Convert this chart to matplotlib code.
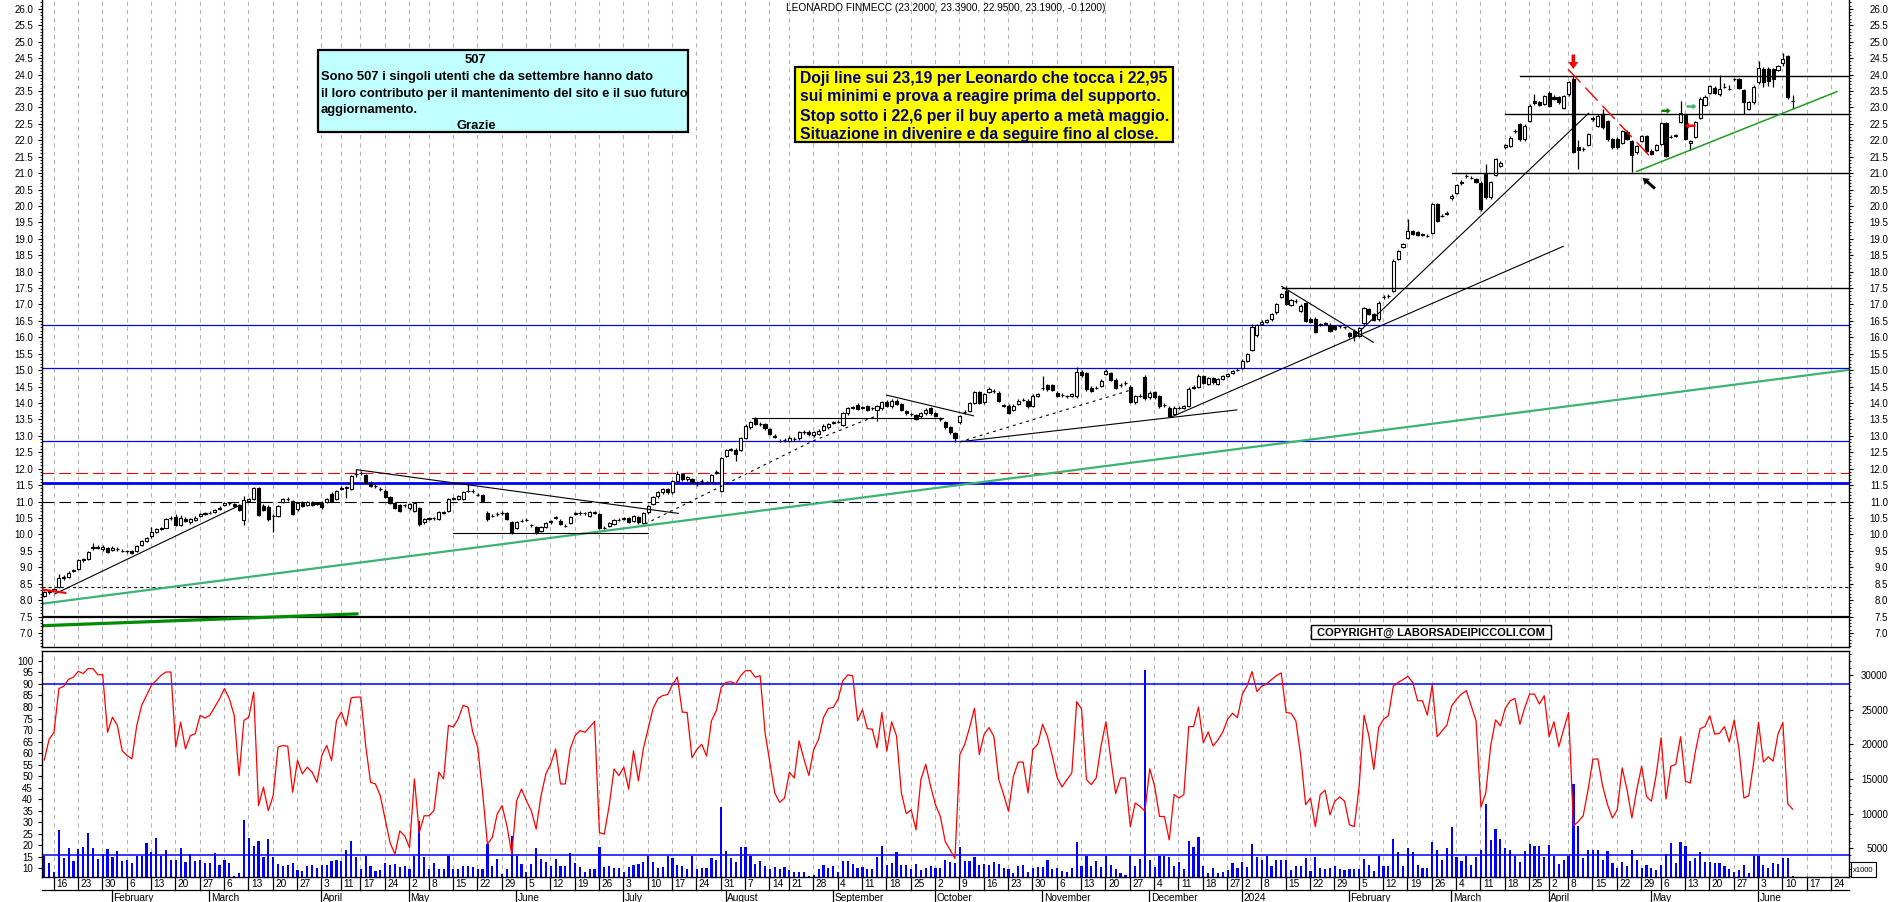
# Leonardo daily candles with stochastic and volume, as in the laborsadeipiccoli chart.

import numpy as np
import pandas as pd
import matplotlib
matplotlib.use('Agg')
import matplotlib.pyplot as plt
from matplotlib import font_manager
from matplotlib.patches import Rectangle, Polygon
from matplotlib.lines import Line2D
from matplotlib.transforms import blended_transform_factory

######## DATA ########

TITLE = 'LEONARDO FINMECC (23.2000, 23.3900, 22.9500, 23.1900, -0.1200)'
FIRST_DAY, LAST_DAY = '2023-01-12', '2024-06-28'
HOLIDAYS = ['2023-04-07', '2023-04-10', '2023-05-01', '2023-08-15', '2023-12-25',
            '2023-12-26', '2024-01-01', '2024-03-29', '2024-04-01', '2024-05-01']
MONTH_LABELS = ['February', 'March', 'April', 'May', 'June', 'July', 'August',
                'September', 'October', 'November', 'December', '2024',
                'February', 'March', 'April', 'May', 'June']

OPEN = [
 8.13, 8.24, 8.29, 8.40, 8.68, 8.69, 8.89, 8.96, 9.22, 9.25,
 9.58, 9.61, 9.55, 9.58, 9.52, 9.56, 9.51, 9.49, 9.50, 9.50,
 9.68, 9.81, 9.94, 10.08, 10.17, 10.21, 10.49, 10.52, 10.30, 10.47,
 10.37, 10.45, 10.55, 10.63, 10.65, 10.67, 10.81, 10.90, 10.95, 10.93,
 10.89, 10.45, 11.03, 11.08, 11.40, 10.85, 10.82, 10.55, 10.57, 11.00,
 11.07, 11.02, 10.77, 10.97, 10.89, 10.97, 10.94, 10.97, 10.99, 11.24,
 11.08, 11.39, 11.42, 11.38, 11.83, 11.88, 11.81, 11.58, 11.47, 11.39,
 11.33, 11.15, 10.97, 10.89, 10.88, 10.79, 10.72, 10.79, 10.37, 10.48,
 10.49, 10.47, 10.66, 10.72, 11.09, 11.08, 11.08, 11.32, 11.32, 11.21,
 11.20, 10.65, 10.56, 10.61, 10.64, 10.65, 10.37, 10.21, 10.41, 10.44,
 10.29, 10.24, 10.11, 10.24, 10.37, 10.51, 10.42, 10.27, 10.35, 10.63,
 10.65, 10.64, 10.57, 10.66, 10.62, 10.20, 10.26, 10.32, 10.44, 10.48,
 10.49, 10.42, 10.52, 10.35, 10.67, 10.92, 11.16, 11.28, 11.38, 11.28,
 11.63, 11.84, 11.68, 11.68, 11.56, 11.62, 11.57, 11.61, 11.88, 11.33,
 12.39, 12.57, 12.58, 12.58, 12.95, 13.26, 13.51, 13.36, 13.36, 13.21,
 12.99, 12.85, 12.87, 12.85, 12.90, 12.92, 13.11, 13.13, 13.02, 13.07,
 13.18, 13.26, 13.40, 13.43, 13.33, 13.69, 13.86, 13.94, 13.86, 13.90,
 13.84, 13.80, 13.84, 14.04, 13.90, 14.07, 13.97, 13.76, 13.66, 13.63,
 13.59, 13.69, 13.84, 13.69, 13.51, 13.41, 13.26, 13.08, 13.41, 13.72,
 13.76, 14.00, 14.34, 14.02, 14.34, 14.37, 14.32, 13.93, 13.92, 13.80,
 13.97, 14.09, 14.07, 13.92, 14.22, 14.46, 14.54, 14.54, 14.32, 14.24,
 14.20, 14.22, 14.20, 14.93, 14.91, 14.47, 14.46, 14.52, 14.88, 14.91,
 14.71, 14.55, 14.60, 14.50, 14.02, 14.21, 14.78, 14.17, 14.34, 14.20,
 13.94, 13.86, 13.66, 13.85, 13.86, 13.92, 14.47, 14.50, 14.81, 14.58,
 14.75, 14.58, 14.73, 14.83, 14.91, 15.00, 15.08, 15.29, 15.62, 16.07,
 16.42, 16.47, 16.55, 16.76, 17.24, 17.42, 16.98, 17.10, 16.81, 17.04,
 16.57, 16.57, 16.39, 16.42, 16.39, 16.35, 16.33, 16.30, 16.13, 16.20,
 16.05, 16.43, 16.86, 16.71, 16.55, 17.23, 17.25, 17.42, 18.38, 18.76,
 19.02, 19.24, 19.21, 19.13, 19.08, 19.19, 20.05, 19.69, 19.75, 20.23,
 20.39, 20.69, 20.91, 20.86, 20.81, 20.71, 20.97, 20.26, 20.94, 21.22,
 21.78, 21.83, 22.27, 22.49, 22.03, 22.59, 23.20, 23.15, 23.10, 23.45,
 23.33, 23.32, 22.99, 23.40, 23.86, 21.78, 21.73, 21.85, 22.64, 22.44,
 22.79, 22.59, 22.03, 22.03, 21.93, 22.25, 21.98, 21.63, 21.98, 22.13,
 21.68, 21.71, 21.88, 22.52, 22.10, 22.14, 22.56, 22.76, 21.91, 22.11,
 22.69, 23.07, 23.45, 23.60, 23.40, 23.62, 23.56, 23.85, 23.86, 23.53,
 22.96, 23.15, 23.76, 24.18, 24.18, 24.16, 24.14, 24.36, 24.55, 23.20]

HIGH = [
 8.27, 8.32, 8.36, 8.79, 8.76, 8.88, 8.96, 9.26, 9.28, 9.50,
 9.74, 9.68, 9.67, 9.62, 9.64, 9.62, 9.57, 9.54, 9.54, 9.68,
 9.82, 9.93, 10.24, 10.20, 10.24, 10.50, 10.56, 10.62, 10.60, 10.52,
 10.50, 10.55, 10.66, 10.69, 10.70, 10.77, 10.85, 11.00, 11.00, 10.97,
 10.93, 11.18, 11.12, 11.44, 11.44, 10.92, 10.88, 10.62, 10.88, 11.12,
 11.14, 11.06, 11.00, 11.02, 11.03, 11.02, 11.00, 11.02, 11.12, 11.30,
 11.36, 11.46, 11.48, 11.80, 11.99, 11.93, 11.85, 11.62, 11.52, 11.44,
 11.37, 11.18, 11.00, 10.93, 10.94, 10.95, 11.00, 10.83, 10.50, 10.53,
 10.54, 10.70, 10.72, 11.12, 11.15, 11.20, 11.33, 11.53, 11.37, 11.26,
 11.24, 10.70, 10.62, 10.67, 10.70, 10.69, 10.41, 10.40, 10.46, 10.49,
 10.33, 10.27, 10.27, 10.37, 10.45, 10.56, 10.46, 10.31, 10.55, 10.69,
 10.70, 10.69, 10.70, 10.72, 10.66, 10.26, 10.38, 10.48, 10.50, 10.54,
 10.53, 10.58, 10.56, 10.68, 10.90, 11.16, 11.31, 11.41, 11.42, 11.66,
 11.92, 11.88, 11.78, 11.72, 11.62, 11.68, 11.62, 11.85, 11.95, 12.36,
 12.60, 12.64, 12.62, 12.96, 13.35, 13.45, 13.56, 13.42, 13.40, 13.25,
 13.05, 12.91, 12.93, 12.99, 12.96, 13.15, 13.17, 13.17, 13.14, 13.20,
 13.35, 13.40, 13.46, 13.48, 13.73, 13.88, 13.92, 14.00, 13.92, 13.95,
 13.89, 13.94, 14.06, 14.08, 14.12, 14.12, 14.01, 13.80, 13.71, 13.67,
 13.73, 13.84, 13.88, 13.73, 13.56, 13.45, 13.30, 13.12, 13.65, 13.78,
 14.04, 14.38, 14.38, 14.31, 14.48, 14.43, 14.36, 13.98, 13.96, 13.96,
 14.11, 14.15, 14.11, 14.26, 14.31, 14.83, 14.58, 14.58, 14.36, 14.29,
 14.25, 14.31, 15.10, 14.99, 14.95, 14.51, 14.52, 14.72, 15.05, 14.95,
 14.75, 14.60, 14.66, 14.54, 14.24, 14.27, 14.84, 14.36, 14.38, 14.24,
 13.99, 13.90, 13.90, 13.91, 13.94, 14.48, 14.54, 14.87, 14.85, 14.79,
 14.79, 14.77, 14.85, 14.92, 15.02, 15.06, 15.33, 15.53, 16.40, 16.42,
 16.52, 16.56, 16.75, 17.05, 17.35, 17.55, 17.18, 17.16, 17.00, 17.08,
 16.61, 16.61, 16.45, 16.48, 16.43, 16.39, 16.38, 16.35, 16.17, 16.24,
 16.30, 16.92, 16.90, 16.75, 17.10, 17.30, 17.31, 18.37, 18.67, 18.88,
 19.60, 19.28, 19.25, 19.19, 19.14, 20.09, 20.09, 19.76, 19.84, 20.35,
 20.67, 20.78, 20.97, 20.92, 20.85, 20.75, 21.27, 20.77, 21.46, 21.36,
 21.90, 22.12, 22.34, 22.53, 22.48, 23.09, 23.40, 23.19, 23.39, 23.49,
 23.38, 23.36, 23.39, 23.80, 23.95, 22.00, 21.79, 22.22, 22.73, 22.80,
 22.95, 22.63, 22.07, 22.10, 22.32, 22.30, 22.02, 21.87, 22.17, 22.17,
 21.72, 21.89, 22.56, 22.56, 22.16, 22.20, 23.20, 22.80, 22.02, 22.60,
 23.31, 23.37, 23.69, 23.64, 24.00, 23.75, 23.68, 23.90, 23.90, 23.57,
 23.19, 23.67, 24.40, 24.22, 24.22, 24.20, 24.30, 24.67, 24.59, 23.39]

LOW = [
 8.10, 8.20, 8.25, 8.38, 8.62, 8.66, 8.85, 8.93, 9.17, 9.22,
 9.52, 9.55, 9.50, 9.44, 9.48, 9.50, 9.45, 9.42, 9.40, 9.47,
 9.65, 9.78, 9.90, 10.03, 10.12, 10.18, 10.43, 10.25, 10.26, 10.38,
 10.33, 10.42, 10.52, 10.59, 10.61, 10.64, 10.74, 10.86, 10.90, 10.84,
 10.72, 10.29, 10.98, 11.04, 10.55, 10.70, 10.40, 10.06, 10.52, 10.96,
 11.02, 10.58, 10.72, 10.83, 10.85, 10.85, 10.90, 10.78, 10.95, 10.98,
 11.04, 11.34, 11.10, 11.34, 11.76, 11.80, 11.55, 11.45, 11.41, 11.33,
 11.12, 10.94, 10.76, 10.68, 10.84, 10.75, 10.68, 10.25, 10.33, 10.44,
 10.45, 10.44, 10.62, 10.69, 11.05, 11.04, 11.05, 11.28, 11.27, 11.16,
 11.00, 10.42, 10.52, 10.57, 10.60, 10.44, 10.00, 10.17, 10.37, 10.40,
 10.22, 10.02, 10.07, 10.20, 10.33, 10.47, 10.29, 10.22, 10.31, 10.59,
 10.60, 10.60, 10.53, 10.62, 10.16, 10.16, 10.22, 10.28, 10.40, 10.44,
 10.34, 10.38, 10.33, 10.31, 10.63, 10.88, 11.12, 11.24, 11.24, 11.24,
 11.60, 11.64, 11.64, 11.57, 11.48, 11.58, 11.52, 11.57, 11.84, 11.30,
 12.35, 12.53, 12.24, 12.54, 12.91, 13.22, 13.32, 13.31, 13.19, 13.03,
 12.93, 12.80, 12.82, 12.81, 12.85, 12.88, 13.06, 13.01, 12.98, 13.03,
 13.14, 13.22, 13.36, 13.38, 13.29, 13.65, 13.82, 13.78, 13.82, 13.76,
 13.79, 13.46, 13.80, 13.88, 13.86, 13.93, 13.76, 13.65, 13.61, 13.47,
 13.55, 13.65, 13.65, 13.57, 13.46, 13.22, 13.07, 12.82, 13.37, 13.68,
 13.72, 13.96, 13.96, 13.98, 14.30, 14.32, 14.03, 13.88, 13.67, 13.76,
 13.93, 14.05, 13.86, 13.88, 14.18, 14.40, 14.38, 14.36, 14.18, 14.19,
 14.15, 14.18, 14.16, 14.80, 14.38, 14.33, 14.42, 14.48, 14.84, 14.67,
 14.43, 14.50, 14.56, 14.00, 13.98, 14.17, 14.10, 14.13, 14.13, 13.86,
 13.89, 13.56, 13.62, 13.81, 13.82, 13.88, 14.43, 14.46, 14.57, 14.54,
 14.59, 14.54, 14.69, 14.79, 14.87, 14.96, 15.04, 15.25, 15.58, 16.02,
 16.38, 16.43, 16.51, 16.72, 17.20, 16.97, 16.94, 17.05, 16.77, 16.46,
 16.43, 16.13, 16.35, 16.38, 16.15, 16.21, 16.28, 16.26, 15.99, 15.90,
 16.01, 16.39, 16.67, 16.49, 16.51, 17.18, 17.21, 17.38, 18.34, 18.72,
 18.98, 19.10, 19.07, 19.09, 19.04, 19.15, 19.51, 19.65, 19.71, 20.19,
 20.35, 20.65, 20.86, 20.81, 20.69, 19.86, 20.22, 20.22, 20.90, 21.18,
 21.74, 21.79, 22.22, 21.99, 21.99, 22.55, 23.08, 23.03, 23.06, 23.01,
 23.23, 23.11, 22.95, 23.36, 21.60, 21.12, 21.68, 21.81, 22.60, 22.40,
 22.35, 21.99, 21.74, 21.74, 21.89, 22.01, 21.02, 21.59, 21.94, 21.64,
 21.54, 21.67, 21.84, 21.48, 22.06, 22.10, 22.52, 22.01, 21.70, 22.07,
 22.65, 23.03, 23.41, 23.41, 23.36, 23.58, 23.52, 23.80, 23.56, 22.80,
 22.92, 23.11, 23.72, 23.62, 23.66, 23.62, 24.10, 24.25, 23.27, 22.95]

CLOSE = [
 8.24, 8.29, 8.33, 8.66, 8.70, 8.84, 8.92, 9.23, 9.24, 9.45,
 9.61, 9.60, 9.63, 9.47, 9.60, 9.55, 9.50, 9.48, 9.43, 9.66,
 9.79, 9.90, 10.06, 10.16, 10.18, 10.47, 10.50, 10.29, 10.50, 10.42,
 10.47, 10.51, 10.63, 10.64, 10.66, 10.74, 10.77, 10.97, 10.95, 10.87,
 10.75, 11.05, 11.08, 11.40, 10.60, 10.75, 10.47, 10.55, 10.85, 11.08,
 11.08, 10.62, 10.97, 10.87, 10.99, 10.89, 10.95, 10.82, 11.08, 11.01,
 11.33, 11.40, 11.43, 11.77, 11.84, 11.87, 11.58, 11.48, 11.46, 11.38,
 11.15, 10.97, 10.79, 10.72, 10.89, 10.92, 10.97, 10.33, 10.47, 10.49,
 10.49, 10.67, 10.67, 11.08, 11.10, 11.16, 11.30, 11.33, 11.31, 11.20,
 11.03, 10.47, 10.57, 10.62, 10.65, 10.47, 10.04, 10.37, 10.42, 10.45,
 10.28, 10.06, 10.24, 10.34, 10.42, 10.52, 10.32, 10.26, 10.52, 10.64,
 10.65, 10.65, 10.67, 10.67, 10.21, 10.21, 10.35, 10.45, 10.45, 10.49,
 10.37, 10.55, 10.37, 10.65, 10.87, 11.13, 11.28, 11.38, 11.28, 11.63,
 11.84, 11.68, 11.74, 11.60, 11.56, 11.63, 11.56, 11.82, 11.89, 12.32,
 12.57, 12.60, 12.45, 12.92, 13.31, 13.41, 13.36, 13.36, 13.23, 13.07,
 12.98, 12.85, 12.87, 12.95, 12.90, 13.11, 13.11, 13.05, 13.11, 13.16,
 13.31, 13.36, 13.41, 13.43, 13.69, 13.84, 13.87, 13.82, 13.87, 13.80,
 13.84, 13.90, 14.02, 13.92, 14.07, 13.97, 13.80, 13.69, 13.66, 13.51,
 13.69, 13.80, 13.69, 13.61, 13.51, 13.26, 13.11, 12.95, 13.61, 13.73,
 14.00, 14.34, 14.00, 14.27, 14.44, 14.37, 14.07, 13.92, 13.71, 13.92,
 14.07, 14.10, 13.90, 14.22, 14.27, 14.47, 14.42, 14.40, 14.22, 14.24,
 14.20, 14.27, 14.95, 14.85, 14.42, 14.37, 14.47, 14.68, 14.98, 14.71,
 14.47, 14.55, 14.61, 14.04, 14.20, 14.22, 14.14, 14.32, 14.17, 13.90,
 13.94, 13.61, 13.86, 13.86, 13.90, 14.44, 14.50, 14.83, 14.61, 14.75,
 14.63, 14.73, 14.81, 14.88, 14.98, 15.01, 15.29, 15.49, 16.30, 16.38,
 16.47, 16.52, 16.71, 17.01, 17.31, 17.01, 17.14, 17.11, 16.96, 16.50,
 16.47, 16.17, 16.40, 16.43, 16.19, 16.25, 16.33, 16.30, 16.03, 16.03,
 16.27, 16.88, 16.71, 16.53, 17.06, 17.24, 17.26, 18.33, 18.63, 18.84,
 19.24, 19.14, 19.11, 19.14, 19.09, 20.05, 19.55, 19.70, 19.80, 20.31,
 20.63, 20.73, 20.92, 20.86, 20.73, 19.90, 20.26, 20.73, 21.42, 21.32,
 21.86, 22.08, 22.28, 22.03, 22.44, 23.05, 23.12, 23.07, 23.35, 23.05,
 23.27, 23.15, 23.35, 23.76, 21.65, 21.71, 21.73, 22.18, 22.69, 22.74,
 22.39, 22.03, 21.78, 21.78, 22.28, 22.05, 21.54, 21.83, 22.13, 21.68,
 21.58, 21.85, 22.52, 21.52, 22.11, 22.15, 22.82, 22.05, 21.98, 22.56,
 23.27, 23.33, 23.65, 23.45, 23.55, 23.63, 23.57, 23.86, 23.60, 23.15,
 23.15, 23.63, 24.21, 23.76, 23.81, 23.86, 24.26, 24.47, 23.31, 23.19]

# stochastic oscillator (left scale of the lower pane)
OSC = [
 57, 66, 69, 88, 89, 92, 93, 95.5, 94.5, 96.7,
 96.7, 94, 94, 69, 75.6, 72, 61, 59, 57.5, 72,
 80.7, 85, 89.4, 91.5, 93.8, 95.2, 95.2, 62.6, 73.4, 61.8,
 67.6, 68.4, 76.4, 75.2, 76.4, 80, 83.6, 88, 83.6, 76.4,
 50.2, 74.2, 75.6, 86.5, 37.2, 45.2, 35, 41.5, 62.6, 63.3,
 63, 43, 56.8, 51, 53.9, 51.7, 47.3, 59, 63.3, 56.8,
 74.2, 77.8, 72, 83.9, 84.3, 84.3, 63.3, 47.3, 46.6, 41.5,
 31.4, 21.2, 16.1, 26.2, 24.1, 19, 48.8, 25.5, 32.8, 32.8,
 35, 51.7, 48.8, 72, 71.3, 74.9, 80.7, 80, 69, 62.6,
 43, 20.5, 23.4, 33.5, 37.2, 28.5, 16.1, 39.3, 44.4, 39.3,
 35, 27, 41.5, 51, 55.3, 61.8, 46.6, 46.6, 61.8, 67.6,
 69.8, 69, 71.3, 73.7, 25.5, 24.8, 37.2, 53.1, 50.2, 53.9,
 44.4, 61, 48, 61.8, 70.5, 79.3, 83.6, 85, 85.4, 89.7,
 93, 77.8, 77.6, 58, 61.6, 63.8, 58.7, 74, 78.4, 88.5,
 90.7, 91, 90, 93.6, 95.8, 95.8, 92.9, 93.6, 68.9, 55.8,
 42.7, 38.6, 40.5, 51.7, 49.2, 65.3, 57.3, 50.3, 61.6, 66,
 75.4, 79.4, 79.8, 83.4, 91.5, 93.9, 93.6, 74, 78.8, 70.6,
 70.4, 62.3, 77.6, 60.9, 73.6, 67.4, 42.7, 33.7, 35.4, 26.7,
 48.5, 55.1, 45.6, 37.6, 32.5, 21.6, 18, 14.3, 59.4, 63.8,
 71.1, 79.4, 59.4, 68.2, 71.1, 67.1, 48.5, 42, 34.7, 50,
 56.1, 56.1, 42.7, 61.6, 63.8, 72.5, 67.1, 58.7, 49.2, 45.3,
 48.5, 51.4, 82.3, 79.1, 48.5, 46.3, 49.2, 63.1, 73.6, 57.3,
 42.4, 49.2, 49.2, 28.1, 38.3, 36.9, 34.7, 53.2, 45.6, 32.5,
 32.5, 22.3, 42, 40.5, 42, 71.5, 71.5, 80, 64.5, 69.2,
 63.1, 65.7, 69.2, 74.7, 77.3, 75.4, 85.6, 89.3, 95.4, 86.7,
 89, 90, 91.9, 93.6, 94.8, 77.6, 77.3, 74, 58.7, 37.6,
 40.5, 28.1, 42, 43.9, 33.2, 39.1, 41, 39.1, 28.9, 28.1,
 45.6, 76.5, 67.4, 52.9, 71.1, 74.7, 76.2, 89, 90.7, 91.9,
 93.3, 90.7, 82.7, 82.7, 76.5, 89.6, 67.1, 69.6, 72.1, 80.5,
 83.4, 85.6, 87.1, 80.5, 74, 36.6, 42.7, 63.1, 74.4, 71.8,
 79.4, 82.7, 83.7, 72.5, 79.8, 85.6, 85.6, 81.3, 84.9, 67.1,
 73.6, 62.8, 70.4, 77.6, 28.4, 30.3, 32.8, 44.1, 57.3, 57.5,
 45.6, 37.6, 31.8, 35.4, 53.6, 44.1, 31.8, 44.1, 54.3, 41.2,
 39.1, 50.7, 66.7, 40.1, 54.3, 55.1, 67.1, 47.8, 47, 60.2,
 70.6, 71.5, 76.2, 68.2, 68.6, 71.5, 64.8, 74.4, 61.6, 40.5,
 41.5, 55.8, 73.3, 56.1, 58.4, 56.5, 68.2, 73.3, 38, 35.7]

# volume in thousands of shares (right scale of the lower pane)
VOLUME = [
 3860, 2880, 1630, 7670, 3660, 5040, 3140, 4910, 5140, 7180,
 5010, 3470, 4190, 4910, 3800, 4650, 3140, 3270, 2880, 3930,
 3930, 5730, 4520, 6460, 3860, 4750, 3300, 3300, 5010, 3010,
 4190, 3200, 3300, 2880, 2880, 4320, 2580, 3300, 2840, 1070,
 1430, 9090, 6490, 5310, 6100, 3700, 6360, 3800, 2740, 2510,
 2580, 2880, 1860, 1690, 2450, 2580, 2120, 2580, 2610, 3140,
 3300, 3140, 4810, 6100, 3700, 2050, 3930, 2420, 1690, 1860,
 2880, 2580, 2740, 2380, 2400, 1990, 3890, 8890, 3790, 1990,
 2870, 1990, 1990, 3890, 1990, 2000, 2450, 2500, 2350, 1990,
 1990, 5570, 2500, 3440, 1250, 1990, 6750, 3890, 2700, 1650,
 2700, 5080, 3440, 3050, 2400, 3440, 2400, 2500, 4390, 2820,
 2300, 1650, 1990, 1990, 5240, 2300, 2500, 2200, 2200, 1650,
 2300, 2650, 2750, 3050, 3890, 3050, 2200, 2300, 3890, 3650,
 2650, 2500, 2020, 3850, 2020, 2100, 2100, 3560, 3370, 10900,
 4620, 3560, 3080, 5140, 5140, 3940, 2740, 3170, 2400, 2020,
 2260, 2020, 2260, 1920, 1630, 1540, 1630, 1060, 1200, 2020,
 2590, 2100, 2400, 1540, 3170, 3170, 2740, 2160, 2260, 2020,
 2020, 3700, 5290, 2590, 2880, 4520, 2590, 2590, 2020, 2740,
 1920, 2100, 2400, 2100, 2100, 3270, 3080, 2880, 5140, 3220,
 3220, 3700, 2590, 2740, 2590, 3080, 2740, 2100, 2020, 1440,
 2400, 2590, 1630, 2100, 2260, 2260, 3370, 2020, 2210, 1680,
 1540, 2210, 5860, 2500, 3850, 2400, 3170, 2260, 3940, 2590,
 2020, 1440, 1200, 3940, 2500, 3460, 30770, 3270, 2260, 3940,
 3940, 3700, 2400, 2980, 2020, 6100, 5140, 6580, 2500, 1440,
 2160, 1440, 1630, 1920, 2880, 2160, 2980, 2260, 5620, 3700,
 3320, 3940, 2500, 3370, 3370, 3320, 1920, 2500, 2500, 3610,
 1780, 3700, 2110, 2020, 2110, 2500, 2020, 1920, 2020, 2020,
 2020, 3460, 2600, 1780, 3940, 2500, 2500, 6350, 4420, 2500,
 5000, 4420, 2600, 2110, 2160, 5860, 4760, 3370, 5050, 8130,
 3800, 3220, 3940, 2600, 3700, 4810, 11400, 6200, 7790, 6350,
 5000, 4760, 3850, 3080, 4660, 5620, 5290, 5290, 3800, 5480,
 3850, 2740, 3320, 3940, 14280, 8180, 3560, 4760, 4760, 4810,
 3370, 4660, 2880, 2160, 2980, 2500, 4810, 3320, 2160, 2600,
 2110, 1870, 2600, 4180, 5720, 2880, 5960, 5380, 3220, 3610,
 4420, 2980, 3000, 2840, 2840, 2500, 2020, 1540, 1920, 2600,
 1440, 3940, 3940, 2650, 2170, 2890, 2740, 3560, 3560, 1060]

# levels and drawn lines (bar index, price)
BLUE_LEVELS = [12.83, 15.06, 16.39]
BLUE_THICK = 11.58
RED_DASHED = 11.87
BLACK_DASHED = 10.98
DOTTED = 8.39
BASE_LINE = 7.5
OSC_LEVEL, VOL_AVG = 90, 4000
RESIST = [(254.1, 17.49), (289.1, 20.99), (299.9, 22.81), (303.0, 23.96)]
TRENDS = [(2.2, 8.19, 40.2, 10.89, '-'), (64.2, 11.97, 130.2, 10.64, '-'),
          (84.0, 10.03, 124.0, 10.03, '-'), (145.3, 13.53, 184.6, 13.53, '-'),
          (173.0, 14.24, 190.8, 13.61, '-'), (188.0, 12.82, 244.9, 13.79, '-'),
          (231.2, 13.56, 311.9, 18.77, '-'), (268.8, 16.00, 317.1, 22.82, '-'),
          (254.1, 17.55, 272.9, 15.85, '-'),
          (123.4, 10.32, 157.9, 12.85, ':'), (157.9, 12.85, 170.9, 13.61, ':'),
          (188.0, 12.82, 223.0, 14.39, ':')]
GREEN_LONG = (-0.46, 7.89, 370.58, 15.01)
GREEN_THICK = (-0.46, 7.22, 64.2, 7.58)
GREEN_MAY = (327.0, 21.05, 368.1, 23.48)
RED_START = (-0.4, 8.32, 4.3, 8.22)
RED_APRIL = (312.9, 24.16, 330.4, 21.40)

BOX_507 = ['507',
           'Sono 507 i singoli utenti che da settembre hanno dato',
           'il loro contributo per il mantenimento del sito e il suo futuro',
           'aggiornamento.',
           'Grazie']
BOX_NOTE = ['Doji line sui 23,19 per Leonardo che tocca i 22,95',
            'sui minimi e prova a reagire prima del supporto.',
            'Stop sotto i 22,6 per il buy aperto a metà maggio.',
            'Situazione in divenire e da seguire fino al close.']
COPYRIGHT = 'COPYRIGHT@ LABORSADEIPICCOLI.COM'

######## LAYOUT ########

W, H = 1890, 903
X0, X1 = 42, 1849
XMIN, XMAX = -0.464, 370.58
PRICE_LIM = (6.563, 26.292)
OSC_LIM = (6.35, 104.44)
VOL_LIM = (909, 33512)

plt.rcParams['lines.scale_dashes'] = False
names = {f.name for f in font_manager.fontManager.ttflist}
SANS = 'Liberation Sans' if 'Liberation Sans' in names else 'DejaVu Sans'
plt.rcParams['font.family'] = [SANS, 'DejaVu Sans']


def fx(p):
    return p / W


def fy(p):
    return 1 - p / H


def xpix(i):
    return X0 + (i - XMIN) / (XMAX - XMIN) * (X1 - X0)


days = pd.bdate_range(FIRST_DAY, LAST_DAY)
days = days[~days.isin(pd.to_datetime(HOLIDAYS))]
mondays = days - pd.to_timedelta(days.weekday, unit='D')
week_starts = [i for i in range(1, len(days)) if mondays[i] != mondays[i - 1]]
month_starts = [i for i in range(1, len(days)) if days[i].month != days[i - 1].month]

n = len(CLOSE)
x = np.arange(n)
o, h, l, c = (np.array(a) for a in (OPEN, HIGH, LOW, CLOSE))

fig = plt.figure(figsize=(W / 100, H / 100), dpi=100)
fig.patch.set_facecolor('white')
ax = fig.add_axes([fx(X0), fy(648.3), (X1 - X0) / W, 648.3 / H])
ax2 = fig.add_axes([fx(X0), fy(877.7), (X1 - X0) / W, (877.7 - 651.7) / H])
axv = ax2.twinx()
ax2.set_zorder(axv.get_zorder() + 1)
ax2.patch.set_visible(False)

GRID = dict(color='#b4b4b4', lw=0.8, ls=(0, (3, 3)), zorder=0)

####### PRICE PANE ########
ax.set_xlim(XMIN, XMAX)
ax.set_ylim(*PRICE_LIM)
for w in week_starts:
    ax.axvline(w - 0.1, **GRID)

ax.axhline(BASE_LINE, color='black', lw=1.6, zorder=2)
ax.axhline(DOTTED, color='black', lw=0.8, ls=(0, (2.2, 2.2)), zorder=2)
ax.axhline(BLACK_DASHED, color='black', lw=0.8, ls=(0, (8.5, 3.6)), zorder=2)
ax.axhline(RED_DASHED, color='#ff0000', lw=0.8, ls=(0, (8.5, 3.6)), zorder=2)
ax.axhline(BLUE_THICK, color='#0000ff', lw=2.0, zorder=2)
for v in BLUE_LEVELS:
    ax.axhline(v, color='#0000ff', lw=0.9, zorder=2)

ax.plot(GREEN_LONG[::2], GREEN_LONG[1::2], color='#3cb371', lw=1.6, zorder=2)
ax.plot(GREEN_THICK[::2], GREEN_THICK[1::2], color='#008c00', lw=2.3, zorder=2)

colors = ['white' if cc >= oo else 'black' for oo, cc in zip(o, c)]
ax.vlines(x, l, h, color='black', lw=0.9, zorder=3)
ax.bar(x, np.abs(c - o), bottom=np.minimum(o, c), width=0.64, color=colors,
       edgecolor='black', linewidth=0.8, zorder=4)

for i0, p in RESIST:
    ax.plot([i0, XMAX], [p, p], color='black', lw=1.0, zorder=5)
for i0, p0, i1, p1, st in TRENDS:
    ls = '-' if st == '-' else (0, (2, 3))
    ax.plot([i0, i1], [p0, p1], color='black', lw=0.8, ls=ls, zorder=5)
ax.plot(GREEN_MAY[::2], GREEN_MAY[1::2], color='#1e9e1e', lw=1.1, zorder=5)
ax.plot(RED_START[::2], RED_START[1::2], color='#ff0000', lw=1.6, zorder=5)
ax.plot(RED_APRIL[::2], RED_APRIL[1::2], color='#ff0000', lw=1.0,
        ls=(0, (13, 5)), zorder=5)

ax.set_xticks([])
ax.yaxis.set_ticks_position('both')
ax.set_yticks(np.arange(7.0, 26.01, 0.5))
ax.set_yticks(np.arange(6.6, 26.3, 0.1), minor=True)
ax.tick_params(axis='y', which='major', direction='out', length=3, width=0.8,
               labelleft=False, labelright=False)
ax.tick_params(axis='y', which='minor', direction='out', length=1.5, width=0.6)
ax.spines['top'].set_visible(False)
for s in ('left', 'right', 'bottom'):
    ax.spines[s].set_linewidth(1.0)

tr = blended_transform_factory(fig.transFigure, ax.transData)
for v in np.arange(7.0, 26.01, 0.5):
    ax.text(fx(33), v, f'{v:.1f}', transform=tr, ha='right', va='center', fontsize=7)
    ax.text(fx(1888), v, f'{v:.1f}', transform=tr, ha='right', va='center', fontsize=7)

####### LOWER PANE ########
for a in (ax2, axv):
    a.set_xlim(XMIN, XMAX)
    a.set_xticks([])
ax2.set_ylim(*OSC_LIM)
axv.set_ylim(*VOL_LIM)
for w in week_starts:
    axv.axvline(w - 0.1, **GRID)
axv.bar(x, VOLUME, width=0.45, color='#0000ff', zorder=2)
axv.axhline(VOL_AVG, color='#0000ff', lw=1.1, zorder=3)
ax2.axhline(OSC_LEVEL, color='#0000ff', lw=1.1, zorder=2)
ax2.plot(x, OSC, color='#ff0000', lw=0.9, zorder=3)

ax2.set_yticks(np.arange(10, 101, 5))
ax2.tick_params(axis='y', left=True, right=False, labelleft=False,
                direction='out', length=3, width=0.8)
axv.set_yticks(np.arange(5000, 30001, 5000))
axv.set_yticks(np.arange(1000, 33001, 1000), minor=True)
axv.tick_params(axis='y', which='major', right=True, left=False, labelright=False,
                direction='out', length=3, width=0.8)
axv.tick_params(axis='y', which='minor', right=True, left=False,
                direction='out', length=1.5, width=0.6)
for s in axv.spines.values():
    s.set_visible(False)
for s in ax2.spines.values():
    s.set_linewidth(1.0)

tr2 = blended_transform_factory(fig.transFigure, ax2.transData)
for v in range(10, 101, 5):
    ax2.text(fx(33), v, str(v), transform=tr2, ha='right', va='center', fontsize=7)
trv = blended_transform_factory(fig.transFigure, axv.transData)
for v in range(5000, 30001, 5000):
    axv.text(fx(1888), v, str(v), transform=trv, ha='right', va='center', fontsize=7)

####### DATE AXIS ########
def fig_line(xs, ys, lw=1.0, color='black'):
    fig.add_artist(Line2D([fx(v) for v in xs], [fy(v) for v in ys],
                          transform=fig.transFigure, color=color, lw=lw))


fig_line([X0, X1], [890.7, 890.7], lw=0.9)
for w in week_starts:
    if w > XMAX:
        continue
    px = xpix(w - 0.1)
    fig_line([px, px], [877.7, 890.7], lw=0.9)
    fig.text(fx(px + 2.5), fy(884.2), str(days[w].day), ha='left', va='center',
             fontsize=7.3)
for m, name in zip(month_starts, MONTH_LABELS):
    px = xpix(m - 0.1)
    fig_line([px, px], [890.7, 903], lw=0.9)
    fig.text(fx(px + 1.5), fy(898.5), name, ha='left', va='center', fontsize=7.3)

####### ANNOTATIONS ########
fig.text(fx(946), fy(8.4), TITLE, ha='center', va='center', fontsize=7.3)


def fig_box(x0, y0, x1, y1, fc, lw):
    fig.add_artist(Rectangle((fx(x0), fy(y1)), (x1 - x0) / W, (y1 - y0) / H,
                             transform=fig.transFigure, facecolor=fc,
                             edgecolor='black', lw=lw, zorder=5))


fig_box(318, 50.6, 687.5, 132.7, '#c0ffff', 1.6)
for k, (txt, yb) in enumerate(zip(BOX_507, [63.3, 80.0, 96.7, 112.7, 129.3])):
    if k in (0, 4):
        fig.text(fx(476), fy(yb), txt, ha='center', va='baseline', fontsize=9.4,
                 fontweight='bold', zorder=6)
    else:
        fig.text(fx(321), fy(yb), txt, ha='left', va='baseline', fontsize=9.4,
                 fontweight='bold', zorder=6)

fig_box(795.5, 67.5, 1172.7, 142.7, '#ffff00', 1.6)
for txt, yb in zip(BOX_NOTE, [82.5, 101.5, 120.5, 139.3]):
    fig.text(fx(800), fy(yb), txt, ha='left', va='baseline', fontsize=11.3,
             fontweight='bold', color='#000080', zorder=6)

fig_box(1311.5, 625.6, 1551, 640, 'white', 1.0)
fig.text(fx(1431), fy(633), COPYRIGHT, ha='center', va='center', fontsize=8,
         fontweight='bold', zorder=6)

fig_box(1851, 863, 1876, 878, 'white', 0.8)
fig.text(fx(1863.5), fy(870.5), 'x1000', ha='center', va='center', fontsize=5.5,
         zorder=6)


def arrow_px(tip, tail, hl, hw, sw, color):
    tip = np.array(tip, float)
    tail = np.array(tail, float)
    d = tip - tail
    d = d / np.hypot(*d)
    nv = np.array([-d[1], d[0]])
    base = tip - d * hl
    pts = [tail + nv * sw / 2, base + nv * sw / 2, base + nv * hw / 2, tip,
           base - nv * hw / 2, base - nv * sw / 2, tail - nv * sw / 2]
    fig.add_artist(Polygon([(fx(p[0]), fy(p[1])) for p in pts], closed=True,
                           transform=fig.transFigure, facecolor=color,
                           edgecolor='none', zorder=6))


arrow_px((1573.3, 70), (1573.3, 55.5), 7, 10, 3.5, '#ff0000')
arrow_px((1670.7, 111.8), (1661.5, 111.8), 4, 6, 2.4, '#008000')
arrow_px((1696.5, 107.5), (1686.5, 107.5), 4, 6, 2.4, '#3cb371')
arrow_px((1685, 126.7), (1695.5, 126.7), 4, 6, 2.4, '#ff0000')
arrow_px((1642.7, 179), (1655, 189.5), 6, 8, 3, 'black')

fig.savefig('out.png', dpi=100)
